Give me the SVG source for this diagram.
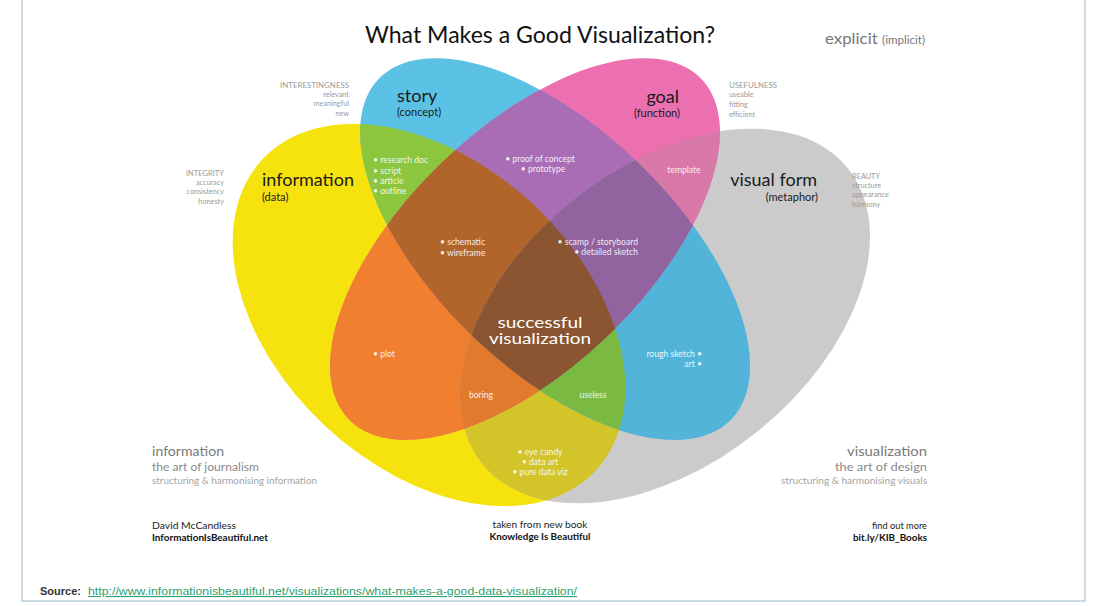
<svg xmlns="http://www.w3.org/2000/svg" width="1102" height="606" viewBox="0 0 1102 606">
<style>
.t{font-family:Lato,"Liberation Sans",sans-serif}
.big{font-size:18px;fill:#1a1a1a}
.sub{font-size:11px;fill:#1a1a1a}
.sm{font-size:7.3px;fill:#9a9a9a}
.wl{font-size:8.6px;fill:#ffffff;fill-opacity:0.9}
.bt1{font-size:14px;fill:#7a7a7a}
.bt2{font-size:11.5px;fill:#8a8a8a}
.bt3{font-size:9px;fill:#a5a5a5}
.cr{font-size:9px;fill:#222}
.crb{font-size:9px;fill:#111;font-weight:bold}
</style>
<defs>
<ellipse id="shY" cx="429" cy="315" rx="228" ry="152" transform="rotate(43 429 315)"/>
<ellipse id="shG" cx="665" cy="316" rx="235" ry="148" transform="rotate(-39 665 316)"/>
<ellipse id="shB" cx="555" cy="249" rx="245" ry="120" transform="rotate(44 555 249)"/>
<ellipse id="shP" cx="525" cy="249" rx="245" ry="120" transform="rotate(-44 525 249)"/>
<clipPath id="cY"><use href="#shY"/></clipPath>
<clipPath id="cG"><use href="#shG"/></clipPath>
<clipPath id="cB"><use href="#shB"/></clipPath>
<clipPath id="cP"><use href="#shP"/></clipPath>
</defs>
<rect x="0" y="0" width="1102" height="606" fill="#ffffff"/>
<rect x="22" y="-2" width="1063" height="603" fill="none" stroke="#9bb8c8" stroke-width="1"/>

<g id="venn">
<g id="set-information"><use href="#shY" fill="#F6E30E"/></g>
<g id="set-visual-form"><use href="#shG" fill="#CBCBCB"/></g>
<g id="set-story"><use href="#shB" fill="#5CC2E5"/></g>
<g id="set-goal"><use href="#shP" fill="#EC70B0"/></g>
<g id="pairs">
<use href="#shB" clip-path="url(#cY)" fill="#8CC63F"/>
<use href="#shP" clip-path="url(#cY)" fill="#F08030"/>
<use href="#shG" clip-path="url(#cY)" fill="#D3C42A"/>
<use href="#shP" clip-path="url(#cB)" fill="#A86DB5"/>
<use href="#shG" clip-path="url(#cB)" fill="#52B4D8"/>
<use href="#shG" clip-path="url(#cP)" fill="#D878A8"/>
</g>
<g id="triples">
<g clip-path="url(#cB)"><use href="#shP" clip-path="url(#cY)" fill="#B2652B"/></g>
<g clip-path="url(#cP)"><use href="#shG" clip-path="url(#cY)" fill="#E27A2E"/></g>
<g clip-path="url(#cB)"><use href="#shG" clip-path="url(#cY)" fill="#7BBA42"/></g>
<g clip-path="url(#cB)"><use href="#shG" clip-path="url(#cP)" fill="#91649F"/></g>
</g>
<g id="center"><g clip-path="url(#cG)"><g clip-path="url(#cB)"><use href="#shP" clip-path="url(#cY)" fill="#8A5530"/></g></g></g>
</g>
<g id="connectors"/>

<g id="title" class="t">
<text x="540" y="43" text-anchor="middle" font-size="24" fill="#111" textLength="350" lengthAdjust="spacingAndGlyphs">What Makes a Good Visualization?</text>
<text x="825" y="44" font-size="16" fill="#777" textLength="100" lengthAdjust="spacingAndGlyphs">explicit <tspan font-size="11">(implicit)</tspan></text>
</g>

<g id="label-story" class="t">
<text x="397" y="102" class="big">story</text>
<text x="397" y="116" class="sub">(concept)</text>
</g>
<g id="label-goal" class="t">
<text x="679" y="103" class="big" text-anchor="end">goal</text>
<text x="680" y="117" class="sub" text-anchor="end">(function)</text>
</g>
<g id="label-information" class="t">
<text x="262" y="186" class="big">information</text>
<text x="262" y="201" class="sub">(data)</text>
</g>
<g id="label-visual-form" class="t">
<text x="817" y="186" class="big" text-anchor="end">visual form</text>
<text x="818" y="201" class="sub" text-anchor="end">(metaphor)</text>
</g>
<g id="label-success" class="t">
<text x="540" y="328" text-anchor="middle" font-size="15" fill="#fff" textLength="85" lengthAdjust="spacingAndGlyphs">successful</text>
<text x="540" y="344" text-anchor="middle" font-size="15" fill="#fff" textLength="102" lengthAdjust="spacingAndGlyphs">visualization</text>
</g>

<g id="qualities" class="t">
<text x="349" y="88" text-anchor="end" class="sm" textLength="69" lengthAdjust="spacingAndGlyphs">INTERESTINGNESS</text>
<text x="349" y="97" text-anchor="end" class="sm">relevant</text>
<text x="349" y="106" text-anchor="end" class="sm">meaningful</text>
<text x="349" y="116" text-anchor="end" class="sm">new</text>
<text x="224" y="176" text-anchor="end" class="sm" textLength="38" lengthAdjust="spacingAndGlyphs">INTEGRITY</text>
<text x="224" y="185" text-anchor="end" class="sm">accuracy</text>
<text x="224" y="194" text-anchor="end" class="sm">consistency</text>
<text x="224" y="204" text-anchor="end" class="sm">honesty</text>
<text x="729" y="88" class="sm" textLength="48" lengthAdjust="spacingAndGlyphs">USEFULNESS</text>
<text x="729" y="97" class="sm">useable</text>
<text x="729" y="107" class="sm">fitting</text>
<text x="729" y="117" class="sm">efficient</text>
<text x="852" y="179" class="sm">BEAUTY</text>
<text x="852" y="188" class="sm">structure</text>
<text x="852" y="197" class="sm">appearance</text>
<text x="852" y="207" class="sm">harmony</text>
</g>

<g id="region-labels" class="t">
<text x="373" y="163" class="wl" font-size="8">• research doc</text>
<text x="373" y="174" class="wl" font-size="8">• script</text>
<text x="373" y="184" class="wl" font-size="8">• article</text>
<text x="373" y="194" class="wl" font-size="8">• outline</text>
<text x="540" y="162" class="wl" text-anchor="middle">• proof of concept</text>
<text x="543" y="172" class="wl" text-anchor="middle">• prototype</text>
<text x="684" y="173" class="wl" text-anchor="middle">template</text>
<text x="440" y="245" class="wl">• schematic</text>
<text x="440" y="256" class="wl">• wireframe</text>
<text x="638" y="245" class="wl" text-anchor="end">• scamp / storyboard</text>
<text x="638" y="255" class="wl" text-anchor="end">• detailed sketch</text>
<text x="373" y="357" class="wl">• plot</text>
<text x="702" y="357" class="wl" text-anchor="end">rough sketch •</text>
<text x="702" y="367" class="wl" text-anchor="end">art •</text>
<text x="481" y="398" class="wl" text-anchor="middle">boring</text>
<text x="593" y="398" class="wl" text-anchor="middle">useless</text>
<text x="540" y="455" class="wl" text-anchor="middle">• eye candy</text>
<text x="540" y="465" class="wl" text-anchor="middle">• data art</text>
<text x="540" y="475" class="wl" text-anchor="middle">• pure data viz</text>
</g>

<g id="footer-left" class="t">
<text x="152" y="456" class="bt1" textLength="72" lengthAdjust="spacingAndGlyphs">information</text>
<text x="152" y="471" class="bt2" textLength="107" lengthAdjust="spacingAndGlyphs">the art of journalism</text>
<text x="152" y="484" class="bt3" textLength="165" lengthAdjust="spacingAndGlyphs">structuring &amp; harmonising information</text>
<text x="152" y="529" class="cr" textLength="84" lengthAdjust="spacingAndGlyphs">David McCandless</text>
<text x="152" y="541" class="crb" textLength="116" lengthAdjust="spacingAndGlyphs">InformationIsBeautiful.net</text>
</g>
<g id="footer-center" class="t">
<text x="540" y="528" class="cr" text-anchor="middle" textLength="95" lengthAdjust="spacingAndGlyphs">taken from new book</text>
<text x="540" y="540" class="crb" text-anchor="middle" textLength="101" lengthAdjust="spacingAndGlyphs">Knowledge Is Beautiful</text>
</g>
<g id="footer-right" class="t">
<text x="927" y="456" class="bt1" text-anchor="end" textLength="80" lengthAdjust="spacingAndGlyphs">visualization</text>
<text x="927" y="471" class="bt2" text-anchor="end" textLength="92" lengthAdjust="spacingAndGlyphs">the art of design</text>
<text x="927" y="484" class="bt3" text-anchor="end" textLength="146" lengthAdjust="spacingAndGlyphs">structuring &amp; harmonising visuals</text>
<text x="927" y="529" class="cr" text-anchor="end" textLength="55" lengthAdjust="spacingAndGlyphs">find out more</text>
<text x="927" y="541" class="crb" text-anchor="end" textLength="74" lengthAdjust="spacingAndGlyphs">bit.ly/KIB_Books</text>
</g>
<g id="source" font-family="'Liberation Sans',Arial,sans-serif" font-size="11">
<text x="40" y="595" fill="#333" font-weight="bold">Source:</text>
<text x="88" y="595" fill="#2f9e6e" text-decoration="underline" textLength="489" lengthAdjust="spacingAndGlyphs">http://www.informationisbeautiful.net/visualizations/what-makes-a-good-data-visualization/</text>
</g>
</svg>
